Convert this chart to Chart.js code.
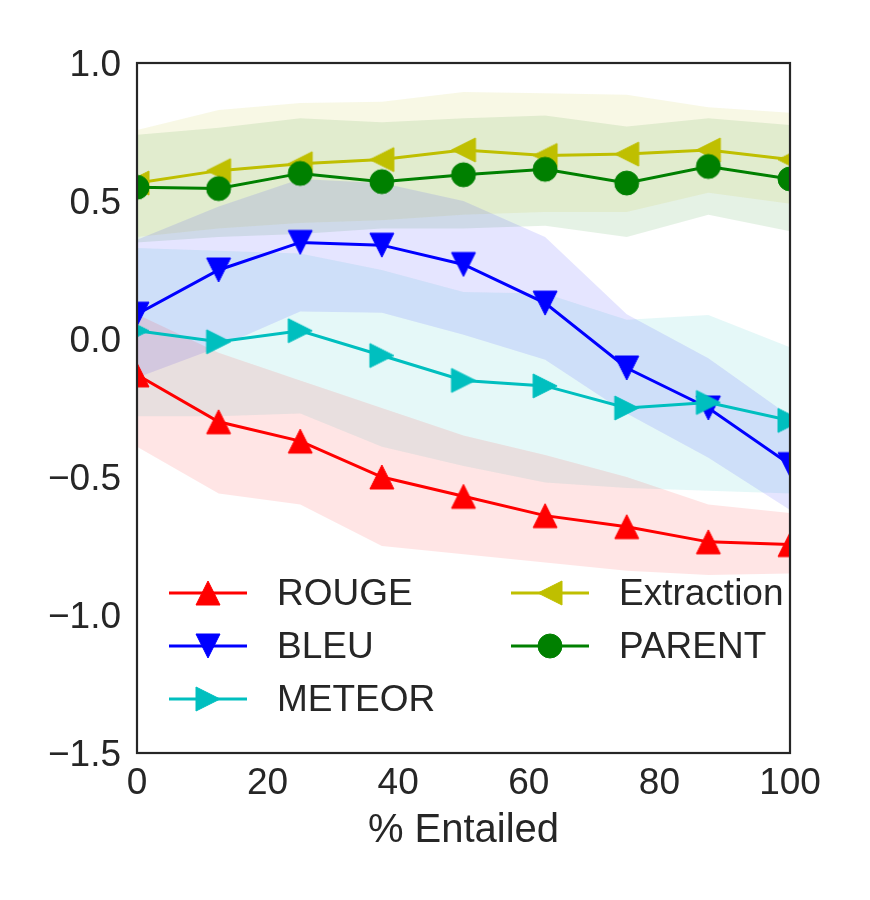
<!DOCTYPE html>
<html><head><meta charset="utf-8">
<script src="https://cdn.jsdelivr.net/npm/chart.js@4.4.1/dist/chart.umd.min.js"></script>
<style>html,body{margin:0;padding:0;background:#fff}#c{display:block}</style>
</head><body>
<canvas id="c" width="870" height="900"></canvas>
<script>
// ---------- data ----------
const xValues = [0, 12.5, 25, 37.5, 50, 62.5, 75, 87.5, 100];
const xTicks = [0, 20, 40, 60, 80, 100];
const yTicks = [-1.5, -1.0, -0.5, 0.0, 0.5, 1.0];
const seriesNames = ['ROUGE', 'BLEU', 'METEOR', 'Extraction', 'PARENT'];

const rouge      = [-0.13, -0.30, -0.37, -0.50, -0.57, -0.64, -0.68, -0.735, -0.745];
const bleu       = [0.09, 0.25, 0.35, 0.34, 0.27, 0.13, -0.105, -0.25, -0.455];
const meteor     = [0.03, -0.01, 0.03, -0.06, -0.15, -0.17, -0.25, -0.23, -0.295];
const extraction = [0.565, 0.61, 0.635, 0.65, 0.685, 0.665, 0.67, 0.685, 0.65];
const parent     = [0.55, 0.545, 0.60, 0.57, 0.595, 0.615, 0.565, 0.625, 0.58];

const rougeHi      = [0.09, -0.05, -0.15, -0.25, -0.35, -0.42, -0.50, -0.60, -0.63];
const rougeLo      = [-0.39, -0.56, -0.60, -0.75, -0.78, -0.81, -0.84, -0.855, -0.85];
const bleuHi       = [0.36, 0.48, 0.58, 0.565, 0.50, 0.37, 0.09, -0.07, -0.28];
const bleuLo       = [-0.14, -0.03, 0.10, 0.095, 0.015, -0.075, -0.27, -0.43, -0.62];
const meteorHi     = [0.33, 0.32, 0.31, 0.25, 0.17, 0.165, 0.07, 0.087, -0.03];
const meteorLo     = [-0.28, -0.28, -0.27, -0.39, -0.46, -0.52, -0.54, -0.55, -0.56];
const extractionHi = [0.757, 0.83, 0.855, 0.86, 0.895, 0.89, 0.885, 0.84, 0.82];
const extractionLo = [0.37, 0.40, 0.42, 0.43, 0.45, 0.46, 0.46, 0.53, 0.49];
const parentHi     = [0.74, 0.765, 0.80, 0.785, 0.80, 0.81, 0.77, 0.80, 0.775];
const parentLo     = [0.35, 0.37, 0.38, 0.40, 0.40, 0.41, 0.37, 0.45, 0.39];

// ---------- styles ----------
const FONT = "'Liberation Sans', Arial, sans-serif";
const TEXT = '#262626';
const colors = {
  ROUGE: [255, 0, 0], BLEU: [0, 0, 255], METEOR: [0, 191, 191],
  Extraction: [191, 191, 0], PARENT: [0, 128, 0]
};
const shapes = { ROUGE: '^', BLEU: 'v', METEOR: '>', Extraction: '<', PARENT: 'o' };
const rgb = (c, a) => a === undefined ? `rgb(${c[0]},${c[1]},${c[2]})` : `rgba(${c[0]},${c[1]},${c[2]},${a})`;

function makeMarker(shape, color) {
  const S = 24, P = 2, W = S + 2 * P, c = W / 2, h = S / 2;
  const cv = document.createElement('canvas');
  cv.width = W; cv.height = W;
  const g = cv.getContext('2d');
  g.fillStyle = color; g.strokeStyle = color; g.lineWidth = 1;
  g.beginPath();
  if (shape === 'o') {
    g.arc(c, c, h, 0, Math.PI * 2);
  } else if (shape === '^') {
    g.moveTo(c, c - h); g.lineTo(c + h, c + h); g.lineTo(c - h, c + h);
  } else if (shape === 'v') {
    g.moveTo(c, c + h); g.lineTo(c + h, c - h); g.lineTo(c - h, c - h);
  } else if (shape === '>') {
    g.moveTo(c + h, c); g.lineTo(c - h, c - h); g.lineTo(c - h, c + h);
  } else if (shape === '<') {
    g.moveTo(c - h, c); g.lineTo(c + h, c - h); g.lineTo(c + h, c + h);
  }
  g.closePath(); g.fill(); g.stroke();
  return cv;
}

const means = { ROUGE: rouge, BLEU: bleu, METEOR: meteor, Extraction: extraction, PARENT: parent };
const highs = { ROUGE: rougeHi, BLEU: bleuHi, METEOR: meteorHi, Extraction: extractionHi, PARENT: parentHi };
const lows  = { ROUGE: rougeLo, BLEU: bleuLo, METEOR: meteorLo, Extraction: extractionLo, PARENT: parentLo };
const pts = arr => xValues.map((x, i) => ({ x: x, y: arr[i] }));

const datasets = [];
seriesNames.forEach((name, k) => {
  const c = colors[name];
  datasets.push({
    label: name + ' low', data: pts(lows[name]), borderWidth: 0, pointRadius: 0,
    fill: false, clip: 0
  });
  datasets.push({
    label: name + ' high', data: pts(highs[name]), borderWidth: 0, pointRadius: 0,
    backgroundColor: rgb(c, 0.1), fill: 2 * k, clip: 0
  });
});
const markers = {};
seriesNames.forEach((name, k) => {
  const c = colors[name];
  markers[name] = makeMarker(shapes[name], rgb(c));
  datasets.push({
    label: name, data: pts(means[name]), borderColor: rgb(c), backgroundColor: rgb(c),
    borderWidth: 3, pointStyle: markers[name], pointRadius: 12, pointHoverRadius: 12,
    fill: false, clip: 0, order: seriesNames.length - k, tension: 0
  });
});

// ---------- plugins ----------
const framePlugin = {
  id: 'frame',
  beforeDatasetsDraw(chart) {
    const a = chart.chartArea, ctx = chart.ctx;
    ctx.save();
    ctx.beginPath();
    ctx.rect(a.left, a.top, a.right - a.left, a.bottom - a.top);
    ctx.clip();
  },
  afterDatasetsDraw(chart) {
    const a = chart.chartArea, ctx = chart.ctx;
    ctx.restore();
    ctx.save();
    ctx.strokeStyle = TEXT; ctx.lineWidth = 2.2;
    ctx.strokeRect(a.left, a.top, a.right - a.left, a.bottom - a.top);
    ctx.restore();
  }
};
const legendPlugin = {
  id: 'customLegend',
  afterDraw(chart) {
    const ctx = chart.ctx;
    const colX = [169, 511], rowY = [593, 646, 699];
    const lineLen = 78, textGap = 108;
    ctx.save();
    ctx.font = `37px ${FONT}`;
    ctx.textBaseline = 'middle';
    ctx.textAlign = 'left';
    seriesNames.forEach((name, i) => {
      const col = i < 3 ? 0 : 1, row = i < 3 ? i : i - 3;
      const x0 = colX[col], y = rowY[row];
      ctx.strokeStyle = rgb(colors[name]); ctx.lineWidth = 3;
      ctx.beginPath(); ctx.moveTo(x0, y); ctx.lineTo(x0 + lineLen, y); ctx.stroke();
      const m = markers[name];
      ctx.drawImage(m, x0 + lineLen / 2 - m.width / 2, y - m.height / 2);
      ctx.fillStyle = TEXT;
      ctx.fillText(name, x0 + textGap, y + 2);
    });
    ctx.restore();
  }
};

Chart.defaults.font.family = FONT;
Chart.defaults.color = TEXT;

new Chart(document.getElementById('c'), {
  type: 'line',
  data: { datasets: datasets },
  plugins: [framePlugin, legendPlugin],
  options: {
    responsive: false,
    animation: false,
    events: [],
    layout: { padding: { left: 0, top: 63, right: 80, bottom: 0 } },
    plugins: {
      legend: { display: false },
      tooltip: { enabled: false },
      filler: { drawTime: 'beforeDatasetsDraw', propagate: false }
    },
    scales: {
      x: {
        type: 'linear', min: 0, max: 100,
        afterBuildTicks: s => { s.ticks = xTicks.map(v => ({ value: v })); },
        afterFit: s => { s.height = 147; },
        grid: { display: false, drawTicks: false },
        border: { display: false },
        ticks: { font: { size: 37 }, color: TEXT, padding: 9, maxRotation: 0,
                 callback: v => String(v) },
        title: { display: true, text: '% Entailed', font: { size: 40 }, color: TEXT,
                 padding: { top: 0, bottom: 45 } }
      },
      y: {
        type: 'linear', min: -1.5, max: 1.0,
        afterBuildTicks: s => { s.ticks = yTicks.map(v => ({ value: v })); },
        afterFit: s => { s.width = 137; },
        grid: { display: false, drawTicks: false },
        border: { display: false },
        ticks: { font: { size: 37, lineHeight: 0.16 }, color: TEXT, padding: 16,
                 callback: v => ['', v.toFixed(1).replace('-', '\u2212')] }
      }
    }
  }
});
</script>
</body></html>
